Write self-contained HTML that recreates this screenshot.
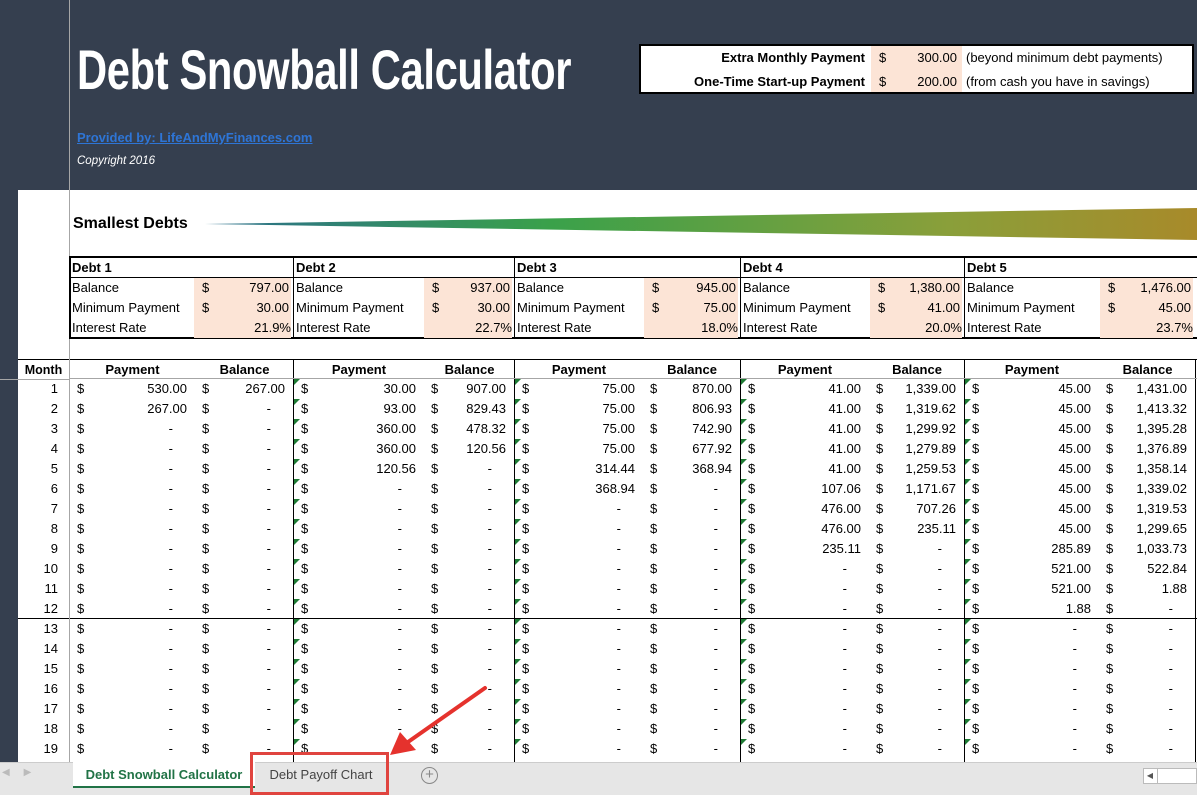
<!DOCTYPE html>
<html><head><meta charset="utf-8">
<style>
*{margin:0;padding:0;box-sizing:border-box}
body{width:1197px;height:795px;overflow:hidden;background:#353f4f;font-family:"Liberation Sans",sans-serif;position:relative}
.a{position:absolute}
.t{font-size:13px;color:#000;white-space:nowrap;line-height:20px}
.r{text-align:right}
.b{font-weight:bold}
.peach{background:#fce4d6}
</style></head><body>
<div class="a" style="left:18px;top:190px;width:1179px;height:572px;background:#fff"></div>
<div class="a" style="left:69px;top:0;width:1px;height:365px;background:#a6a6a6"></div>
<div class="a" style="left:0;top:379px;width:69px;height:1px;background:#a6a6a6"></div>

<div class="a" style="left:77px;top:38px;color:#fff;font-weight:bold;font-size:56px;line-height:64px;white-space:nowrap;transform:scaleX(0.745);transform-origin:left;letter-spacing:-0.5px">Debt Snowball Calculator</div>
<div class="a" style="left:77px;top:130px;color:#2e75d6;font-weight:bold;font-size:13px;text-decoration:underline;line-height:16px">Provided by: LifeAndMyFinances.com</div>
<div class="a" style="left:77px;top:153px;color:#fff;font-style:italic;font-size:11.5px;line-height:16px">Copyright 2016</div>

<div class="a" style="left:639px;top:44px;width:555px;height:50px;background:#fff;border:2px solid #000"></div>
<div class="a peach" style="left:871px;top:46px;width:91px;height:46px"></div>
<div class="a t b r" style="left:640px;top:48px;width:225px">Extra Monthly Payment</div>
<div class="a t" style="left:879px;top:48px">$</div>
<div class="a t r" style="left:880px;top:48px;width:77px">300.00</div>
<div class="a t" style="left:966px;top:48px">(beyond minimum debt payments)</div>
<div class="a t b r" style="left:640px;top:72px;width:225px">One-Time Start-up Payment</div>
<div class="a t" style="left:879px;top:72px">$</div>
<div class="a t r" style="left:880px;top:72px;width:77px">200.00</div>
<div class="a t" style="left:966px;top:72px">(from cash you have in savings)</div>

<div class="a b" style="left:73px;top:214px;font-size:16px;line-height:20px">Smallest Debts</div>
<svg class="a" style="left:0;top:0" width="1197" height="300">
<defs><linearGradient id="g" x1="205" x2="1197" y1="0" y2="0" gradientUnits="userSpaceOnUse"><stop offset="0" stop-color="#2a6e8c"/><stop offset="0.35" stop-color="#3aa14a"/><stop offset="0.75" stop-color="#8a9f3a"/><stop offset="1" stop-color="#a88a2a"/></linearGradient></defs>
<polygon points="205,224 1197,208 1197,240" fill="url(#g)"/>
</svg>

<div id="debts"></div>
<div id="sched"></div>

<div class="a" style="left:0;top:762px;width:1197px;height:33px;background:#e6e6e6;border-top:1px solid #ccc"></div>
<div class="a" style="left:2px;top:767px;color:#bbb;font-size:10px">◀&nbsp;&nbsp;&nbsp;&nbsp;&nbsp;▶</div>
<div class="a b" style="left:73px;top:762px;width:182px;height:26px;background:#fff;border-bottom:2px solid #217346;color:#217346;font-size:13px;text-align:center;line-height:26px">Debt Snowball Calculator</div>
<div class="a" style="left:256px;top:763px;width:130px;height:24px;color:#444;font-size:13px;text-align:center;line-height:24px">Debt Payoff Chart</div>
<div class="a" style="left:250px;top:752px;width:139px;height:43px;border:3px solid #e0443f"></div>
<div class="a" style="left:421px;top:767px;width:17px;height:17px;border:1.5px solid #888;border-radius:50%;color:#888;font-size:15px;line-height:14px;text-align:center">+</div>
<div class="a" style="left:1143px;top:768px;width:54px;height:16px;background:#fff;border:1px solid #bbb"></div>
<div class="a" style="left:1143px;top:768px;width:15px;height:16px;border-right:1px solid #bbb;color:#555;font-size:8px;line-height:16px;text-align:center">◀</div>
<svg class="a" style="left:0;top:0" width="1197" height="795">
<line x1="485" y1="688" x2="408" y2="742" stroke="#e5322d" stroke-width="4" stroke-linecap="round"/>
<polygon points="390,755 400,732 416,750" fill="#e5322d"/>
</svg>

<script>
const debtNames=["Debt 1","Debt 2","Debt 3","Debt 4","Debt 5"];
const debtBalances=["797.00","937.00","945.00","1,380.00","1,476.00"];
const debtMinPayments=["30.00","30.00","75.00","41.00","45.00"];
const debtRates=["21.9%","22.7%","18.0%","20.0%","23.7%"];
const months=[1,2,3,4,5,6,7,8,9,10,11,12,13,14,15,16,17,18,19];
const pay1=["530.00","267.00"],bal1=["267.00","-"];
const pay2=["30.00","93.00","360.00","360.00","120.56"],bal2=["907.00","829.43","478.32","120.56","-"];
const pay3=["75.00","75.00","75.00","75.00","314.44","368.94"],bal3=["870.00","806.93","742.90","677.92","368.94","-"];
const pay4=["41.00","41.00","41.00","41.00","41.00","107.06","476.00","476.00","235.11"],bal4=["1,339.00","1,319.62","1,299.92","1,279.89","1,259.53","1,171.67","707.26","235.11","-"];
const pay5=["45.00","45.00","45.00","45.00","45.00","45.00","45.00","45.00","285.89","521.00","521.00","1.88"],bal5=["1,431.00","1,413.32","1,395.28","1,376.89","1,358.14","1,339.02","1,319.53","1,299.65","1,033.73","522.84","1.88","-"];
const pays=[pay1,pay2,pay3,pay4,pay5],bals=[bal1,bal2,bal3,bal4,bal5];

const blockX=[69,293,514,740,964,1195];
const peachX=[194,424,644,870,1100];
const balColX=[196,425,644,870,1100];

function div(parent,name,css,text,cls){
  const d=document.createElement('div');
  d.className='a t '+(cls||'');
  d.style.cssText=css;
  if(text!==undefined)d.textContent=text;
  
  
  parent.appendChild(d);return d;
}
const D=document.getElementById('debts');
div(D,'debt-table-border','left:69px;top:256px;width:1128px;height:83px;border:2px solid #000;border-right:none');
div(D,'debt-header-line','left:69px;top:277px;width:1128px;height:1px;background:#000');
for(let i=0;i<5;i++){
  const x=blockX[i];
  if(i>0)div(D,'debt-divider','left:'+x+'px;top:256px;width:1px;height:83px;background:#000');
  const p=div(D,'debt-input-cells','left:'+peachX[i]+'px;top:278px;width:'+(blockX[i+1]-peachX[i]-2)+'px;height:60px','', 'peach');
  
  div(D,'debt-name','left:'+(x+3)+'px;top:258px',debtNames[i],'b');
  div(D,'balance-label','left:'+(x+3)+'px;top:278px','Balance');
  div(D,'min-payment-label','left:'+(x+3)+'px;top:298px','Minimum Payment');
  div(D,'interest-label','left:'+(x+3)+'px;top:318px','Interest Rate');
  div(D,'balance-dollar','left:'+(peachX[i]+8)+'px;top:278px','$');
  div(D,'min-dollar','left:'+(peachX[i]+8)+'px;top:298px','$');
  const rw=blockX[i+1]-peachX[i]-4;
  div(D,'balance-value','left:'+peachX[i]+'px;top:278px;width:'+rw+'px',debtBalances[i],'r');
  div(D,'min-payment-value','left:'+peachX[i]+'px;top:298px;width:'+rw+'px',debtMinPayments[i],'r');
  div(D,'interest-value','left:'+peachX[i]+'px;top:318px;width:'+(rw+2)+'px',debtRates[i],'r');
}
const S=document.getElementById('sched');
const top0=359,rh=20;
div(S,'schedule-top-border','left:18px;top:'+top0+'px;width:1179px;height:1px;background:#000');
div(S,'month-header','left:18px;top:'+(top0+1)+'px;width:51px;text-align:center;font-size:12.5px','Month','b');
div(S,'row12-separator','left:18px;top:'+(top0+20+12*rh-1)+'px;width:1179px;height:1px;background:#000');
for(let i=0;i<5;i++){
  const x=blockX[i],bx=balColX[i],end=blockX[i+1];
  div(S,'block-divider','left:'+x+'px;top:'+top0+'px;width:1px;height:403px;background:'+(i==0?'#a6a6a6':'#000'));
  div(S,'payment-header','left:'+x+'px;top:'+(top0+1)+'px;width:'+(bx-x)+'px;text-align:center','Payment','b');
  div(S,'balance-header','left:'+bx+'px;top:'+(top0+1)+'px;width:'+(end-bx)+'px;text-align:center','Balance','b');
}
div(S,'right-border','left:1195px;top:'+top0+'px;width:1px;height:403px;background:#000');
div(S,'header-bottom-line','left:69px;top:'+(top0+19)+'px;width:1128px;height:1px;background:#a6a6a6');
months.forEach((m,r)=>{
  const y=top0+20+r*rh;
  div(S,'month-number','left:18px;top:'+y+'px;width:40px',String(m),'r');
  for(let i=0;i<5;i++){
    const x=blockX[i],bx=balColX[i],end=blockX[i+1];
    const pv=r<pays[i].length?pays[i][r]:'-';
    const bv=r<bals[i].length?bals[i][r]:'-';
    if(i>0){div(S,'formula-indicator','left:'+(x+1)+'px;top:'+y+'px;width:0;height:0;border-top:6px solid #1e7b34;border-right:6px solid transparent');}
    div(S,'payment-dollar','left:'+(x+8)+'px;top:'+y+'px','$');
    div(S,'payment-value','left:'+x+'px;top:'+y+'px;width:'+(bx-x-9)+'px',pv,'r'+(pv=='-'?' dash':''));
    div(S,'balance-dollar','left:'+(bx+6)+'px;top:'+y+'px','$');
    div(S,'balance-value','left:'+bx+'px;top:'+y+'px;width:'+(end-bx-8)+'px',bv,'r'+(bv=='-'?' dashb':''));
  }
});
document.querySelectorAll('.dash').forEach(e=>{e.style.paddingRight='14px';});
document.querySelectorAll('.dashb').forEach(e=>{e.style.paddingRight='14px';});
</script>
</body></html>
